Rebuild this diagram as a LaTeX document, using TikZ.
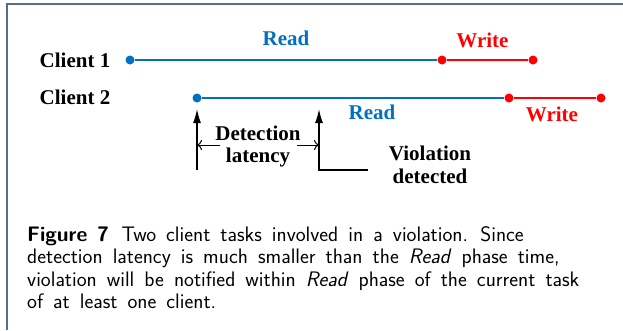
\documentclass[tikz,border=0pt]{standalone}
\usepackage{fontspec}
\newfontfamily\timesbf[BoldFont={Liberation Serif Bold}]{Liberation Serif}
\usetikzlibrary{arrows.meta}
\definecolor{readblue}{RGB}{0,112,192}
\definecolor{writered}{RGB}{255,0,0}
\definecolor{framegray}{RGB}{84,110,140}
\newcommand{\capfont}{\sffamily\fontsize{21}{22.5}\selectfont\spaceskip=0.48em\relax}
\tikzset{
  lbl/.style={font=\timesbf\bfseries\fontsize{21}{22}\selectfont, inner sep=0pt},
  dot/.style={circle, fill=#1, inner sep=0pt, minimum size=9pt},
  phase/.style={line width=2.6pt, #1},
}
\begin{document}
\begin{tikzpicture}[x=1pt, y=-1pt]
         \useasboundingbox (0,0) rectangle (623,330);
         % frame
         \draw[framegray, line width=2pt] (7,330) -- (7,4) -- (623,4);
         % client labels
         \node[lbl] (L1) at (75,60) {Client 1};
         \node[lbl] (L2) at (75,97) {Client 2};
         % client 1
         \node[dot=readblue] (A) at (130,60) {};
         \node[dot=writered] (B) at (442,60) {};
         \node[dot=writered] (C) at (533,60) {};
         \draw[phase=readblue] (A) -- (B) node[midway, lbl, text=readblue, yshift=22pt] {Read};
         \draw[phase=writered] (B) -- (C) node[midway, lbl, text=writered, xshift=-5pt, yshift=20pt] {Write};
         % client 2
         \node[dot=readblue] (D) at (197,98) {};
         \node[dot=writered] (E) at (509,98) {};
         \node[dot=writered] (F) at (601,98) {};
         \draw[phase=readblue] (D) -- (E) node[midway, lbl, text=readblue, xshift=19pt, yshift=-14pt] {Read};
         \draw[phase=writered] (E) -- (F) node[midway, lbl, text=writered, xshift=-3pt, yshift=-16pt] {Write};
         % detection latency
         \coordinate (P) at (197,170);
         \coordinate (Q) at (319,170);
         \coordinate (R) at (368,170);
         \coordinate (PT) at (197,109);
         \coordinate (QT) at (319,109);
         \draw[line width=1.4pt, -{Latex[length=14pt,width=8pt]}] (P) -- (PT);
         \draw[line width=1.4pt, -{Latex[length=14pt,width=8pt]}] (R) -- (Q) -- (QT);
         \node[lbl] (G) at (258,133) {Detection};
         \node[lbl] (H) at (258,157) {latency};
         \coordinate (GL) at (197,145);
         \coordinate (GR) at (319,145);
         \draw[line width=1pt, -{To[length=5pt,width=10pt]}] (220,145) -- (GL);
         \draw[line width=1pt, -{To[length=5pt,width=10pt]}] (297,145) -- (GR);
         \node[lbl] (I) at (430,153) {Violation};
         \node[lbl] (J) at (430,176) {detected};
         % caption
         \node[anchor=north west, inner sep=0pt, align=left, font=\capfont] (K) at (27,226)
           {\textbf{Figure 7}\hspace{0.6em}Two client tasks involved in a violation. Since\\
            detection latency is much smaller than the \textit{Read} phase time,\\
            violation will be notified within \textit{Read} phase of the current task\\
            of at least one client.};
      \end{tikzpicture}
\end{document}
